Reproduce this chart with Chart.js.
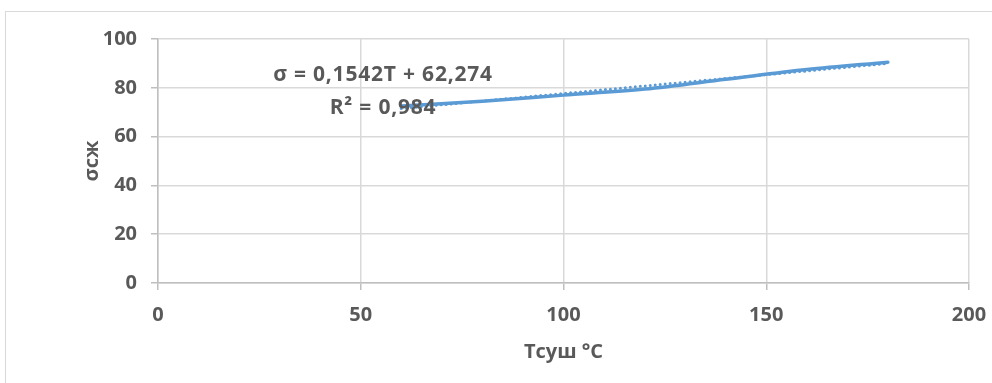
<!DOCTYPE html>
<html>
<head>
<meta charset="utf-8">
<script src="https://cdn.jsdelivr.net/npm/chart.js@4/dist/chart.umd.min.js"></script>
<style>
    html, body { margin: 0; padding: 0; background: #fff; overflow: hidden; }
    #wrap { position: relative; width: 992px; height: 383px; }
    #frame { position: absolute; left: 5px; top: 11px; width: 1100px; height: 500px; border: 1.5px solid #d9d9d9; }
    canvas { position: absolute; left: 0; top: 0; }
</style>
</head>
<body>
<div id="wrap">
    <div id="frame"></div>
    <canvas id="chart" width="992" height="383"></canvas>
</div>
<script>
    // Drying temperature (x) and strength (y)
    const tempValues = [60, 80, 100, 120, 140, 160, 180];
    const strengthValues = [72.5, 74.5, 77, 79.5, 83.5, 87.5, 90.5];

    // Linear trendline end points
    const trendTemps = [60, 180];
    const trendValues = [71.5, 90.0];

    const xTicks = [0, 50, 100, 150, 200];
    const yTicks = [0, 20, 40, 60, 80, 100];

    const equationText = "σ = 0,1542T + 62,274";
    const r2Text = "R² = 0,984";

    const blue = "#5B9BD5";
    const textColor = "#595959";
    const fontFamily = "'Open Sans', sans-serif";

    const annotationPlugin = {
        id: "trendLabel",
        afterDatasetsDraw(chart) {
            const { ctx, scales } = chart;
            ctx.save();
            ctx.fillStyle = textColor;
            ctx.font = `bold 21px ${fontFamily}`;
            ctx.letterSpacing = "0.8px";
            ctx.textAlign = "center";
            ctx.textBaseline = "middle";
            ctx.fillText(equationText, scales.x.getPixelForValue(55.5), scales.y.getPixelForValue(85.2));
            ctx.fillText(r2Text, scales.x.getPixelForValue(55.5), scales.y.getPixelForValue(71.8));
            ctx.restore();
        },
    };

    const ctx = document.getElementById("chart").getContext("2d");
    new Chart(ctx, {
        type: "scatter",
        data: {
            datasets: [
                {
                    label: "Trend",
                    data: trendTemps.map((t, i) => ({ x: t, y: trendValues[i] })),
                    showLine: true,
                    borderColor: blue,
                    borderWidth: 3,
                    borderDash: [0, 5],
                    borderCapStyle: "round",
                    pointRadius: 0,
                    order: 0,
                },
                {
                    label: "σсж",
                    data: tempValues.map((t, i) => ({ x: t, y: strengthValues[i] })),
                    showLine: true,
                    borderColor: blue,
                    borderWidth: 3.5,
                    borderCapStyle: "round",
                    cubicInterpolationMode: "monotone",
                    pointRadius: 0,
                    order: 1,
                },
            ],
        },
        options: {
            responsive: false,
            animation: false,
            layout: { padding: { left: 0, top: 39, right: 23, bottom: 0 } },
            plugins: {
                legend: { display: false },
                tooltip: { enabled: false },
            },
            scales: {
                x: {
                    type: "linear",
                    min: 0,
                    max: 200,
                    afterBuildTicks: (scale) => { scale.ticks = xTicks.map((v) => ({ value: v })); },
                    afterFit: (scale) => {
                        scale.height = 100;
                        scale.paddingLeft = 0;
                        scale.paddingRight = 0;
                    },
                    grid: { color: "#d9d9d9", lineWidth: 1.5, tickLength: 7, tickColor: "#bfbfbf" },
                    border: { color: "#bfbfbf", width: 1.5 },
                    ticks: { color: textColor, padding: 13, font: { family: fontFamily, size: 20, weight: "bold" } },
                    title: {
                        display: true,
                        text: "Tcyш °C",
                        color: textColor,
                        font: { family: fontFamily, size: 20, weight: "bold" },
                        padding: { top: 4, bottom: 19 },
                    },
                },
                y: {
                    type: "linear",
                    min: 0,
                    max: 100,
                    afterBuildTicks: (scale) => { scale.ticks = yTicks.map((v) => ({ value: v })); },
                    afterFit: (scale) => {
                        scale.width = 158;
                        scale.paddingTop = 0;
                        scale.paddingBottom = 0;
                    },
                    grid: { color: "#d9d9d9", lineWidth: 1.5, tickLength: 7, tickColor: "#bfbfbf" },
                    border: { color: "#bfbfbf", width: 1.5 },
                    ticks: { color: textColor, padding: 14, font: { family: fontFamily, size: 20, weight: "bold" } },
                    title: {
                        display: true,
                        text: "σсж",
                        color: textColor,
                        font: { family: fontFamily, size: 20, weight: "bold" },
                        padding: { top: 80, bottom: 4 },
                    },
                },
            },
        },
        plugins: [annotationPlugin],
    });
</script>
</body>
</html>
